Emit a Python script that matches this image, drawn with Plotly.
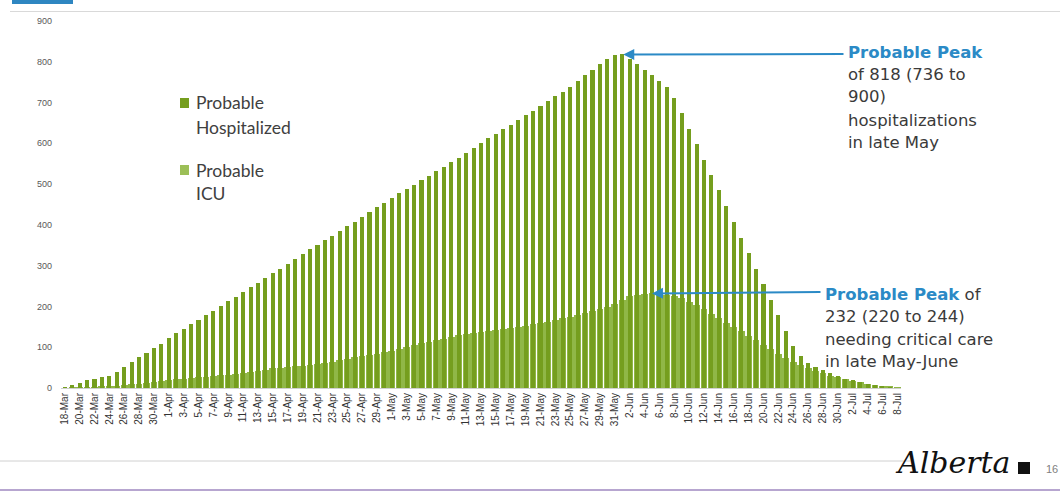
import pandas as pd
import plotly.graph_objects as go

# Daily modelled counts, 18-Mar to 8-Jul
dates = pd.date_range("2020-03-18", "2020-07-08", freq="D")
day_labels = [f"{d.day}-{d.strftime('%b')}" for d in dates]

hospitalized = [
    2, 7, 13, 20, 23, 26, 29, 40, 52, 63, 77, 87, 99, 109, 122, 134, 145, 156, 167, 178,
    189, 201, 213, 224, 236, 247, 258, 270, 281, 293, 305, 316, 328, 340, 350, 363, 373, 386, 397, 408,
    420, 431, 443, 454, 466, 479, 489, 499, 511, 520, 532, 542, 555, 565, 577, 589, 600, 612, 623, 634,
    646, 657, 669, 680, 692, 704, 716, 726, 738, 753, 767, 781, 794, 808, 816, 818, 808, 794, 781, 767,
    753, 738, 712, 675, 636, 598, 560, 522, 485, 447, 408, 369, 332, 293, 255, 216, 179, 140, 103, 78,
    62, 52, 44, 37, 29, 23, 19, 15, 11, 7, 3, 1, 0,
]

icu = [
    0, 1, 1, 2, 2, 3, 4, 5, 7, 9, 11, 13, 15, 17, 19, 21, 23, 25, 26, 28,
    30, 31, 33, 35, 37, 40, 42, 45, 48, 50, 51, 53, 55, 57, 59, 62, 64, 68, 71, 75,
    78, 81, 84, 88, 91, 95, 100, 105, 110, 114, 118, 121, 125, 129, 132, 135, 137, 140, 142, 145,
    147, 150, 153, 156, 159, 163, 167, 171, 175, 179, 184, 189, 194, 199, 205, 216, 225, 229, 231, 232,
    231, 228, 225, 220, 212, 203, 193, 182, 171, 160, 150, 139, 128, 117, 106, 95, 84, 74, 64, 56,
    48, 41, 36, 30, 26, 22, 18, 14, 11, 8, 5, 3, 1,
]

y_ticks = [0, 100, 200, 300, 400, 500, 600, 700, 800, 900]

HOSP_COLOR = "#759E1E"
ICU_COLOR = "#90B747"
BLUE = "#2B8AC6"
TEXT_GRAY = "#3A3A3A"
CALLOUT_FONT = "DejaVu Sans, Arial, sans-serif"

x = list(range(len(dates)))
peak_hosp_i = max(range(len(hospitalized)), key=lambda i: (hospitalized[i], i))
peak_icu_i = max(range(len(icu)), key=lambda i: icu[i])

W_PX, H_PX = 1060, 493
L, R, T, B = 61, 159, 21, 105
PW, PH = W_PX - L - R, H_PX - T - B
X_RANGE = [-0.5, len(x) - 0.5]
Y_RANGE = [0, 900]


def px(xp):
    return (xp - L) / PW


def py(yp):
    return (H_PX - B - yp) / PH


def data_x(xp):
    return X_RANGE[0] + px(xp) * (X_RANGE[1] - X_RANGE[0])


def data_y(yp):
    return Y_RANGE[0] + py(yp) * (Y_RANGE[1] - Y_RANGE[0])


fig = go.Figure()
fig.add_trace(go.Bar(x=x, y=icu, width=0.92, marker=dict(color=ICU_COLOR, line_width=0),
                     name="Probable ICU", showlegend=False))
fig.add_trace(go.Bar(x=x, y=hospitalized, width=0.55, marker=dict(color=HOSP_COLOR, line_width=0),
                     name="Probable Hospitalized", showlegend=False))

shapes = [
    # slide header bar and rule
    dict(type="rect", xref="paper", yref="paper", x0=px(12), x1=px(73), y0=py(4), y1=py(-2),
         fillcolor="#2E86C1", line_width=0),
    dict(type="line", xref="paper", yref="paper", x0=px(10), x1=px(1060), y0=py(11.5), y1=py(11.5),
         line=dict(color="#D9D9D9", width=1.2)),
    # footer rules
    dict(type="line", xref="paper", yref="paper", x0=px(0), x1=px(910), y0=py(461), y1=py(461),
         line=dict(color="#D0D0D0", width=1)),
    dict(type="line", xref="paper", yref="paper", x0=px(0), x1=px(1060), y0=py(490), y1=py(490),
         line=dict(color="#B7A6D0", width=2)),
    # legend swatches
    dict(type="rect", xref="paper", yref="paper", x0=px(180), x1=px(189), y0=py(108), y1=py(98),
         fillcolor=HOSP_COLOR, line_width=0),
    dict(type="rect", xref="paper", yref="paper", x0=px(180), x1=px(189), y0=py(175), y1=py(165),
         fillcolor="#9CBF57", line_width=0),
    # logo mark
    dict(type="rect", xref="paper", yref="paper", x0=px(1018), x1=px(1030), y0=py(474), y1=py(462),
         fillcolor="#111111", line_width=0),
]

ann = []


def text(xp, yp, s, size=16.5, color=TEXT_GRAY, family=CALLOUT_FONT, anchor="left"):
    ann.append(dict(xref="paper", yref="paper", x=px(xp), y=py(yp), text=s, showarrow=False,
                    xanchor=anchor, yanchor="middle", font=dict(size=size, color=color, family=family)))


# legend text
legend_font = "Lato, Calibri, sans-serif"
text(194, 103, "Probable", 17.5, "#404040", legend_font)
text(194, 127, "Hospitalized", 17.5, "#404040", legend_font)
text(194, 170, "Probable", 17.5, "#404040", legend_font)
text(194, 193, "ICU", 17.5, "#404040", legend_font)

# hospitalization peak callout
text(846, 52, "<b>Probable Peak</b>", color=BLUE)
text(846, 75, f"of {hospitalized[peak_hosp_i]} (736 to")
text(846, 97, "900)")
text(846, 120, "hospitalizations")
text(846, 142, "in late May")

# ICU peak callout
text(823, 294, f"<span style='color:{BLUE}'><b>Probable Peak</b></span> of")
text(823, 316, f"{icu[peak_icu_i]} (220 to 244)")
text(823, 339, "needing critical care")
text(823, 361, "in late May-June")

# footer
text(893, 462, "<i>Alberta</i>", 30, "#111111", "DejaVu Serif, serif")
text(1044, 469, "16", 11, "#808080", "Liberation Sans, Arial, sans-serif")

# arrows pointing at the peaks
ann.append(dict(x=peak_hosp_i, y=hospitalized[peak_hosp_i], xref="x", yref="y",
                ax=data_x(845), ay=data_y(54), axref="x", ayref="y",
                showarrow=True, arrowhead=2, arrowsize=1.1, arrowwidth=2, arrowcolor=BLUE,
                standoff=1, text=""))
ann.append(dict(x=peak_icu_i, y=icu[peak_icu_i], xref="x", yref="y",
                ax=data_x(822), ay=data_y(292), axref="x", ayref="y",
                showarrow=True, arrowhead=2, arrowsize=1.1, arrowwidth=2, arrowcolor=BLUE,
                standoff=0, text=""))

fig.update_layout(
    width=W_PX, height=H_PX,
    margin=dict(l=L, r=R, t=T, b=B),
    paper_bgcolor="white", plot_bgcolor="white",
    barmode="overlay", bargap=0,
    shapes=shapes, annotations=ann,
    font=dict(family="Liberation Sans, Arial, sans-serif"),
)
fig.update_xaxes(
    range=X_RANGE, tickmode="array", tickvals=x[::2], ticktext=day_labels[::2],
    tickangle=-90, tickfont=dict(size=10, color="#333333", family="Liberation Sans Narrow, Arial Narrow, sans-serif"),
    showgrid=False, zeroline=False,
    showline=True, linecolor="#D0D0D0", linewidth=1, ticks="",
)
fig.update_yaxes(
    range=Y_RANGE, tickmode="array", tickvals=y_ticks, tickfont=dict(size=9, color="#595959"),
    showgrid=False, zeroline=False, showline=False, ticks="", ticklabelstandoff=8,
)

fig.write_html("out.html")
